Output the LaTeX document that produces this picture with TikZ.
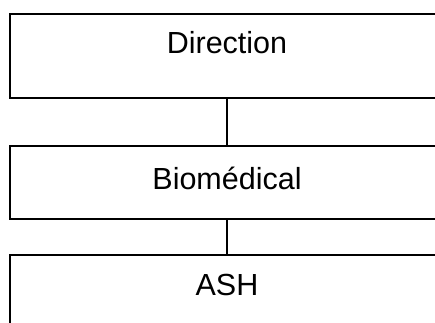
\documentclass[tikz,border=0pt]{standalone}
\usepackage{fontspec}
\setmainfont{Liberation Sans}
\begin{document}
\begin{tikzpicture}[x=1pt,y=1pt,
  box/.style={draw=black,line width=1.8pt,minimum width=434pt,inner sep=0pt,outer sep=0pt},
  lbl/.style={anchor=base,inner sep=0pt,font=\fontsize{30.5}{36}\selectfont},
  conn/.style={draw=black,line width=1.8pt}]
\useasboundingbox (0,0) rectangle (435,-322);
\clip (0,0) rectangle (435,-322);
\node[box,minimum height=84pt] (dir) at (227,-56) {};
\node[box,minimum height=73pt] (bio) at (227,-182.5) {};
\node[box,minimum height=90pt] (ash) at (227,-300) {};
\node[lbl] (tdir) at (227,-53) {Direction};
\node[lbl] (tbio) at (227,-189) {Biomédical};
\node[lbl] (tash) at (227,-295) {ASH};
\draw[conn] (dir.south) -- (bio.north);
\draw[conn] (bio.south) -- (ash.north);
\end{tikzpicture}
\end{document}
